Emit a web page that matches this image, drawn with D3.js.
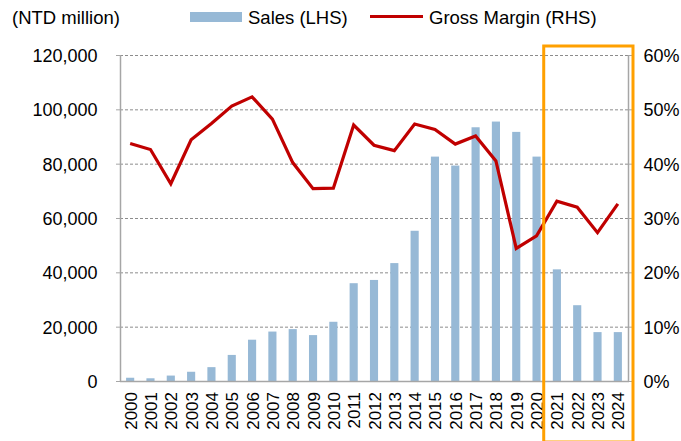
<!DOCTYPE html>
<html><head><meta charset="utf-8">
<script src="https://cdn.jsdelivr.net/npm/d3@7"></script>
<style>body{margin:0;background:#fff}svg{display:block}text{font-family:"Liberation Sans",Arial,sans-serif;fill:#000}</style>
</head><body><svg id="c" width="681" height="441"></svg>
<script>
const years = ["2000","2001","2002","2003","2004","2005","2006","2007","2008","2009","2010","2011","2012","2013","2014","2015","2016","2017","2018","2019","2020","2021","2022","2023","2024"];
const sales = [1200,1000,2000,3400,5100,9600,15200,18200,19100,16900,21800,36000,37200,43400,55300,82600,79300,93400,95500,91700,82600,41100,27900,18000,18000];
const grossMargin = [43.7,42.6,36.3,44.4,47.4,50.6,52.3,48.2,40.2,35.4,35.5,47.1,43.4,42.4,47.3,46.3,43.6,45.1,40.5,24.4,26.7,33.1,32.0,27.3,32.6];
const leftTicks = [0,20000,40000,60000,80000,100000,120000];
const rightTicks = [0,10,20,30,40,50,60];
const highlightYears = ["2021","2024"];

const svg = d3.select("#c");
const L = 120, R = 628, T = 55, B = 381;
const x = d3.scaleBand().domain(years).range([L, R]).paddingInner(0.6).paddingOuter(0.3);
const yL = d3.scaleLinear().domain([0,120000]).range([B, T]);
const yR = d3.scaleLinear().domain([0,60]).range([B, T]);

// gridlines
svg.append("g").selectAll("line").data(leftTicks.filter(d=>d>0)).join("line")
  .attr("x1", L).attr("x2", R).attr("y1", d=>yL(d)+0.5).attr("y2", d=>yL(d)+0.5)
  .attr("stroke", "#8c8c8c").attr("stroke-width", 1).attr("stroke-dasharray", "3,2");

// bars
svg.append("g").selectAll("rect").data(years).join("rect")
  .attr("x", d=>x(d)).attr("width", x.bandwidth())
  .attr("y", (d,i)=>yL(sales[i])).attr("height", (d,i)=>B - yL(sales[i]))
  .attr("fill", "#97b9d6");

// axes frame
svg.append("line").attr("x1", L+0.5).attr("x2", L+0.5).attr("y1", T).attr("y2", B).attr("stroke", "#a6a6a6").attr("stroke-width", 1.5);
svg.append("line").attr("x1", R+0.5).attr("x2", R+0.5).attr("y1", T).attr("y2", B).attr("stroke", "#a6a6a6").attr("stroke-width", 1.5);
svg.append("line").attr("x1", L).attr("x2", R+1).attr("y1", B+0.5).attr("y2", B+0.5).attr("stroke", "#a6a6a6").attr("stroke-width", 1.5);
// ticks
svg.append("g").selectAll("line").data(leftTicks).join("line")
  .attr("x1", L-4).attr("x2", L).attr("y1", d=>yL(d)+0.5).attr("y2", d=>yL(d)+0.5).attr("stroke", "#a6a6a6");
svg.append("g").selectAll("line").data(rightTicks).join("line")
  .attr("x1", R).attr("x2", R+4).attr("y1", d=>yR(d)+0.5).attr("y2", d=>yR(d)+0.5).attr("stroke", "#a6a6a6");

// line
const line = d3.line().x((d,i)=>x(years[i]) + x.bandwidth()/2).y(d=>yR(d));
svg.append("path").datum(grossMargin).attr("d", line).attr("fill", "none")
  .attr("stroke", "#c00000").attr("stroke-width", 3.2).attr("stroke-linejoin", "miter");

// left axis labels
svg.append("g").selectAll("text").data(leftTicks).join("text")
  .attr("x", 97.5).attr("y", d=>yL(d)+7).attr("text-anchor", "end").attr("font-size", 18)
  .text(d=>d3.format(",")(d));
// right axis labels
svg.append("g").selectAll("text").data(rightTicks).join("text")
  .attr("x", 643.5).attr("y", d=>yR(d)+7).attr("font-size", 18)
  .text(d=>d+"%");
// x labels
svg.append("g").selectAll("text").data(years).join("text")
  .attr("transform", d=>`translate(${x(d)+x.bandwidth()/2+6.5},392) rotate(-90)`)
  .attr("text-anchor", "end").attr("font-size", 17).text(d=>d);

// highlight box
const hx0 = x(highlightYears[0]) - (x.step()-x.bandwidth())/2 - 3;
const hx1 = R + 5;
svg.append("rect").attr("x", hx0).attr("y", 46).attr("width", hx1 - hx0).attr("height", 396)
  .attr("fill", "none").attr("stroke", "#ffa000").attr("stroke-width", 3);

// legend
svg.append("text").attr("x", 12).attr("y", 24).attr("font-size", 18.5).text("(NTD million)");
svg.append("rect").attr("x", 190).attr("y", 12).attr("width", 52).attr("height", 10).attr("fill", "#97b9d6");
svg.append("text").attr("x", 248).attr("y", 24).attr("font-size", 18.5).text("Sales (LHS)");
svg.append("line").attr("x1", 370).attr("x2", 423).attr("y1", 16.5).attr("y2", 16.5).attr("stroke", "#c00000").attr("stroke-width", 3);
svg.append("text").attr("x", 429).attr("y", 24).attr("font-size", 18.5).text("Gross Margin (RHS)");
</script></body></html>
